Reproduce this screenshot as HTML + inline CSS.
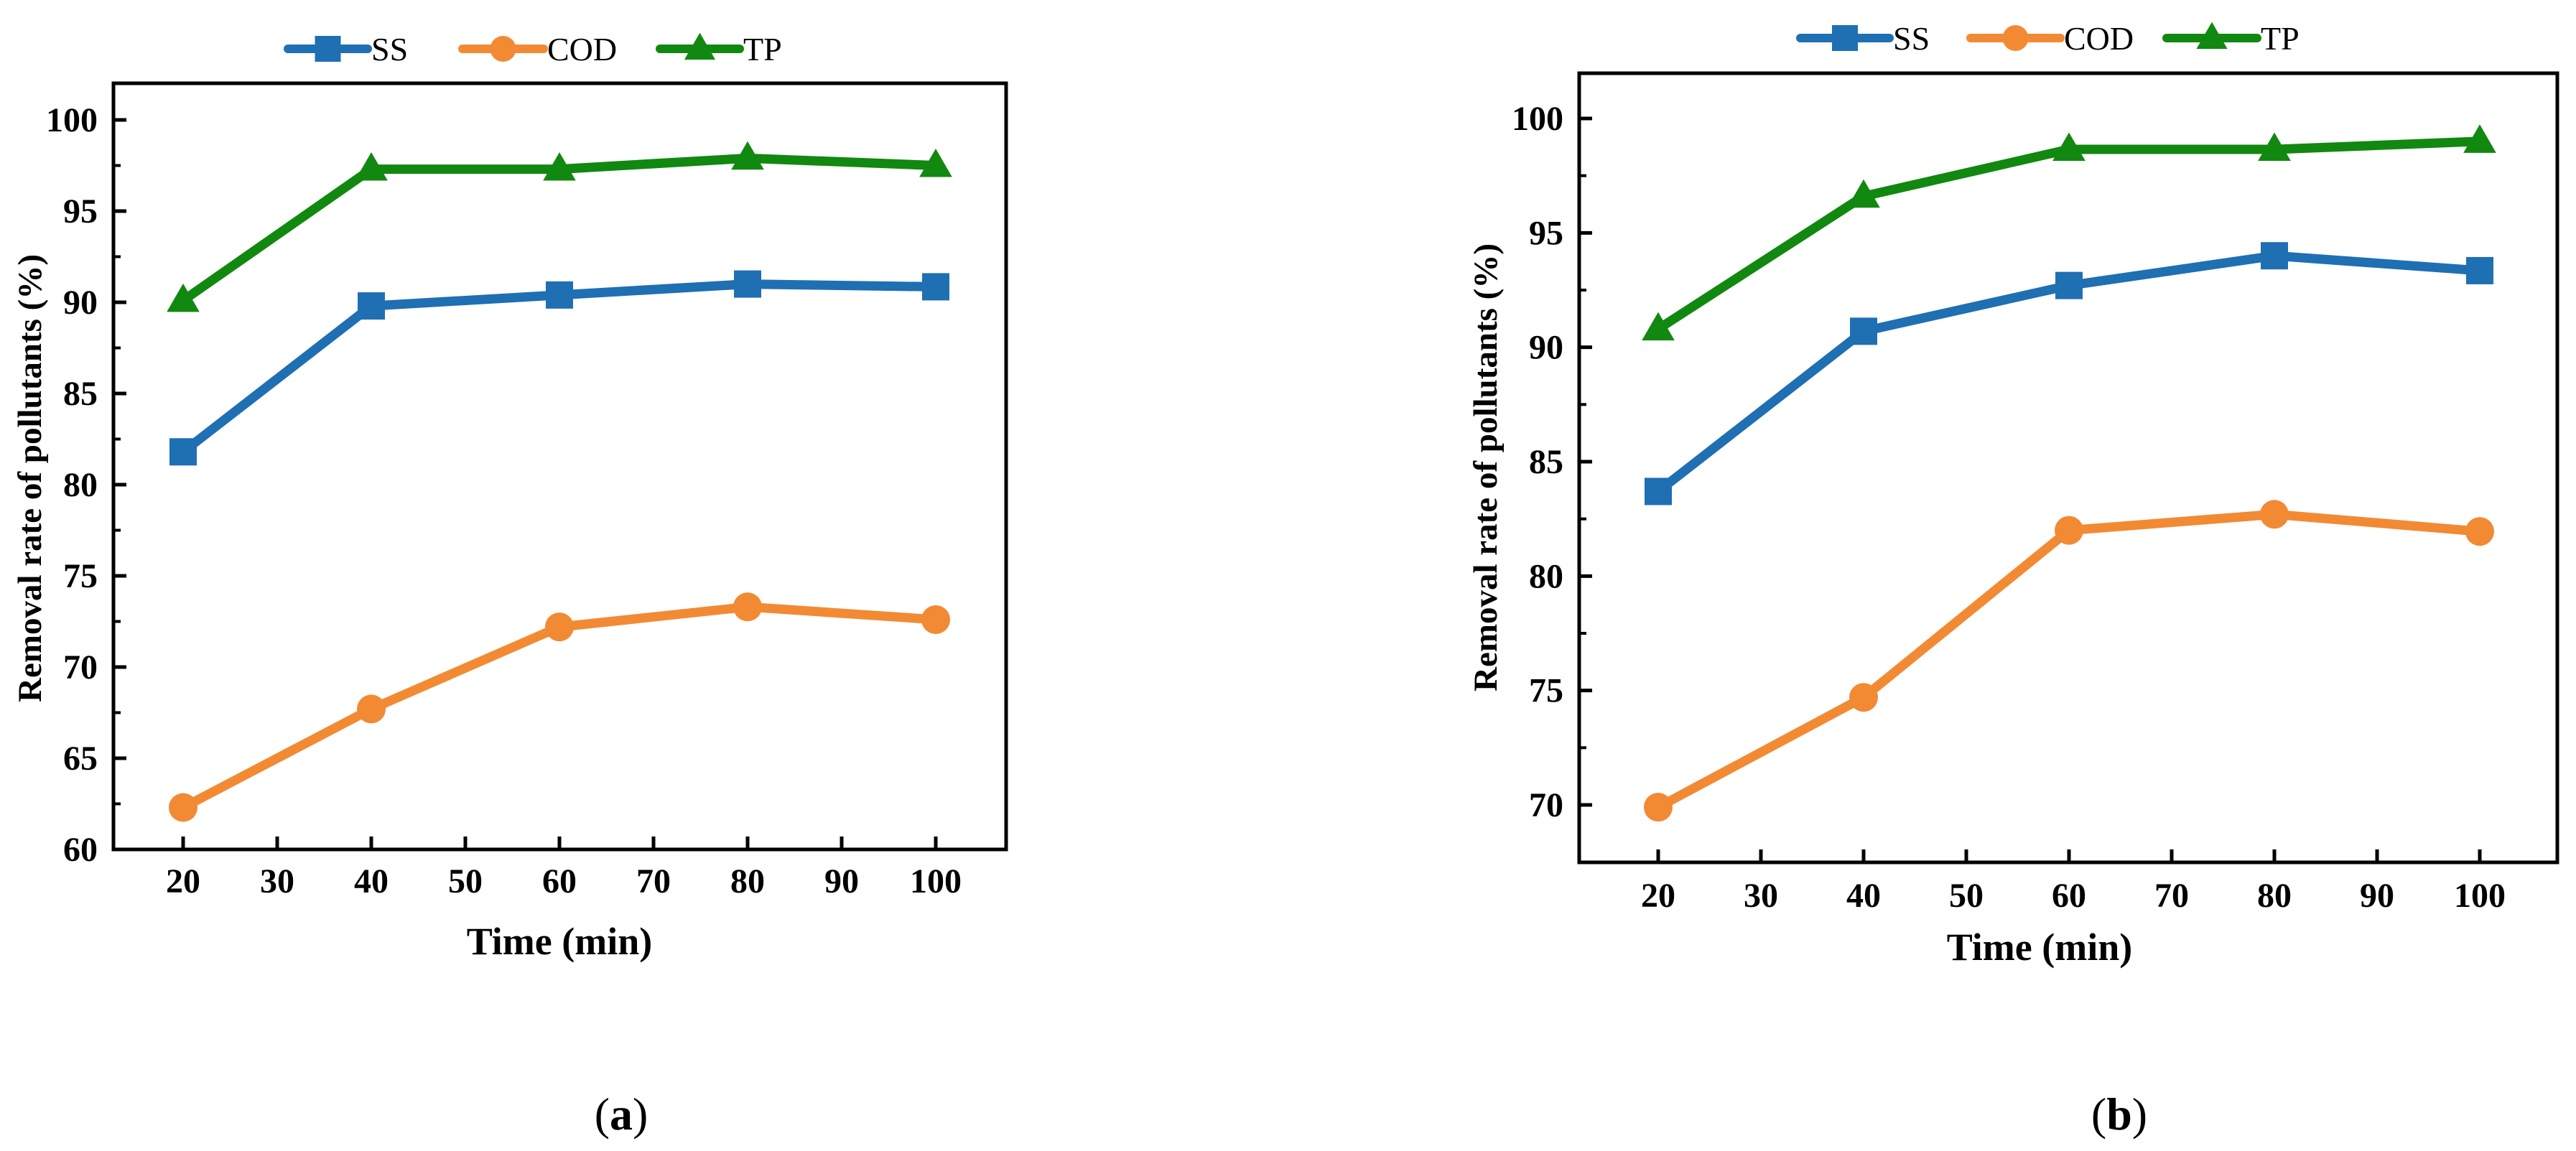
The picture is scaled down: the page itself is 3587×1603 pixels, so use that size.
<!DOCTYPE html>
<html><head><meta charset="utf-8"><style>
html,body{margin:0;padding:0;background:#fff;}
svg{display:block;font-family:"Liberation Serif",serif;}
</style></head><body>
<svg id="fig" width="3587" height="1603" viewBox="0 0 3587 1603" xmlns="http://www.w3.org/2000/svg"></svg>
<script>
const xCats = [20, 40, 60, 80, 100];
const xTicks = [20, 30, 40, 50, 60, 70, 80, 90, 100];
const aSS = [81.8, 89.8, 90.4, 91.0, 90.85];
const aCOD = [62.3, 67.7, 72.2, 73.3, 72.6];
const aTP = [90.1, 97.3, 97.3, 97.9, 97.5];
const bSS = [83.7, 90.7, 92.7, 94.0, 93.35];
const bCOD = [69.9, 74.7, 82.0, 82.7, 81.95];
const bTP = [90.8, 96.6, 98.65, 98.65, 99.0];
const aYTicks = [60, 65, 70, 75, 80, 85, 90, 95, 100];
const bYTicks = [70, 75, 80, 85, 90, 95, 100];
const seriesNames = ['SS', 'COD', 'TP'];

const NS = 'http://www.w3.org/2000/svg';
const svg = document.getElementById('fig');
const COLORS = {SS:'#1f6fb3', COD:'#f28a34', TP:'#11880f'};
function mk(tag, attrs, parent){const e=document.createElementNS(NS,tag);for(const k in attrs)e.setAttribute(k,attrs[k]);(parent||svg).appendChild(e);return e;}

function marker(g, type, cx, cy, s, color){
  let e;
  if(type==='SS'){e=mk('rect',{x:cx-s/2,y:cy-s/2,width:s,height:s,fill:color},g);}
  else if(type==='COD'){e=mk('circle',{cx:cx,cy:cy,r:s/2,fill:color},g);}
  else {const h=s*1.0;e=mk('polygon',{points:`${cx},${cy-h*0.62} ${cx-s*0.6},${cy+h*0.42} ${cx+s*0.6},${cy+h*0.42}`,fill:color},g);}
  return e;
}

function panel(cfg){
  const {id,L,R,T,B,x0,x1,xpx0,xpx1,y0,y1,ypx0,ypx1,yTicks,data,leg,xlabY,xtitle,ytitle,cap} = cfg;
  const X = v => xpx0 + (v - x0) * (xpx1 - xpx0) / (x1 - x0);
  const Y = v => ypx0 + (v - y0) * (ypx1 - ypx0) / (y1 - y0);
  const g = mk('g',{});
  
  
  const frame = mk('rect',{x:L,y:T,width:R-L,height:B-T,fill:'none',stroke:'#000','stroke-width':5},g);
  
  
  yTicks.forEach((v,i)=>{
    const y=Y(v);
    mk('line',{x1:L,y1:y,x2:L+18,y2:y,stroke:'#000','stroke-width':5},g);
    const t=mk('text',{x:L-22,y:y+16,'text-anchor':'end','font-size':48,'font-weight':'bold'},g);
    t.textContent=v;
    
    
    const m=v+2.5;
    if(Y(m)>T+5) mk('line',{x1:L,y1:Y(m),x2:L+10,y2:Y(m),stroke:'#000','stroke-width':4},g);
  });
  if(Y(yTicks[0]-2.5)<B-5) mk('line',{x1:L,y1:Y(yTicks[0]-2.5),x2:L+10,y2:Y(yTicks[0]-2.5),stroke:'#000','stroke-width':4},g);
  xTicks.forEach(v=>{
    const x=X(v);
    mk('line',{x1:x,y1:B,x2:x,y2:B-18,stroke:'#000','stroke-width':5},g);
    const t=mk('text',{x:x,y:xlabY+16,'text-anchor':'middle','font-size':48,'font-weight':'bold'},g);
    t.textContent=v;
    
    
  });
  data.forEach((vals,si)=>{
    const name=seriesNames[si], c=COLORS[name];
    const sg=mk('g',{},g);
    
    
    const pts=vals.map((v,i)=>X(xCats[i])+','+Y(v)).join(' ');
    mk('polyline',{points:pts,fill:'none',stroke:c,'stroke-width':13,'stroke-linejoin':'round'},sg);
    vals.forEach((v,i)=>{
      const m=marker(sg,name,X(xCats[i]),Y(v),name==='COD'?40:38,c);
      
      
    });
  });
  const lg=mk('g',{},g);
  
  
  leg.items.forEach((it,i)=>{
    const name=seriesNames[i], c=COLORS[name];
    const eg=mk('g',{},lg);
    
    
    mk('line',{x1:it[0],y1:leg.y,x2:it[1],y2:leg.y,stroke:c,'stroke-width':12,'stroke-linecap':'round'},eg);
    marker(eg,name,(it[0]+it[1])/2,leg.y,36,c);
    const t=mk('text',{x:it[1]+5,y:leg.y+16,'font-size':46},eg);
    t.textContent=name;
  });
  const xt=mk('text',{x:xtitle[0],y:xtitle[1]+18,'text-anchor':'middle','font-size':54,'font-weight':'bold'},g);
  xt.textContent='Time (min)';
  
  
  const yt=mk('text',{x:0,y:0,'text-anchor':'middle','font-size':47,'font-weight':'bold',transform:`translate(${ytitle[0]+16},${ytitle[1]}) rotate(-90)`},g);
  yt.textContent='Removal rate of pollutants (%)';
  
  
  const cp=mk('text',{x:cap[0],y:cap[1]+22,'text-anchor':'middle','font-size':64},g);
  cp.innerHTML='(<tspan font-weight="bold">'+cap[2]+'</tspan>)';
  
  
}

panel({id:'panel-a',L:158,R:1401,T:116,B:1183,x0:20,x1:100,xpx0:255,xpx1:1303,
  y0:60,y1:100,ypx0:1183,ypx1:167,yTicks:aYTicks,data:[aSS,aCOD,aTP],
  leg:{y:68,items:[[401,512],[644,757],[919,1030]]},xlabY:1227,xtitle:[779,1311],ytitle:[41,666],cap:[865,1551,'a']});
panel({id:'panel-b',L:2199,R:3561,T:102,B:1201,x0:20,x1:100,xpx0:2309,xpx1:3453,
  y0:70,y1:100,ypx0:1121,ypx1:165,yTicks:bYTicks,data:[bSS,bCOD,bTP],
  leg:{y:53,items:[[2507,2631],[2744,2869],[3017,3143]]},xlabY:1247,xtitle:[2840,1319],ytitle:[2068,651],cap:[2951,1551,'b']});
</script>
</body></html>
